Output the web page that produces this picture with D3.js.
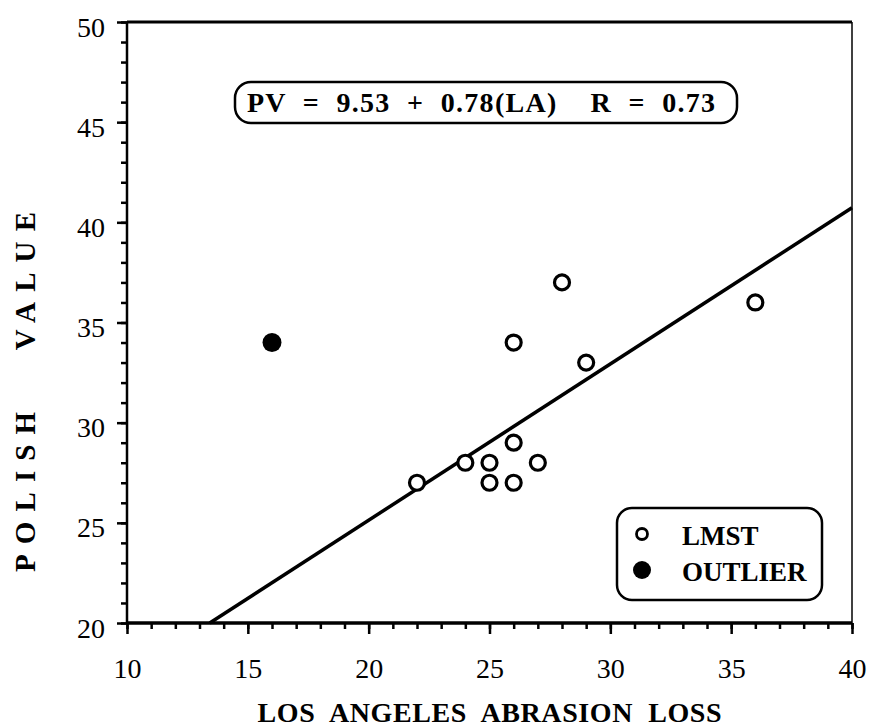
<!DOCTYPE html>
<html>
<head>
<meta charset="utf-8">
<script src="https://cdn.jsdelivr.net/npm/d3@7"></script>
<style>
  body { margin: 0; background: #fff; }
  text { font-family: "Liberation Serif", "Times New Roman", serif; fill: #000; }
</style>
</head>
<body>
<script>
// data
var lmstLA = [22, 24, 25, 25, 26, 26, 27, 26, 28, 29, 36];
var lmstPV = [27, 28, 28, 27, 29, 27, 28, 34, 37, 33, 36];
var outlierLA = [16];
var outlierPV = [34];
var intercept = 9.53, slope = 0.78;
var xTicks = [10, 15, 20, 25, 30, 35, 40];
var yTicks = [20, 25, 30, 35, 40, 45, 50];
var legendLabels = ["LMST", "OUTLIER"];

var width = 872, height = 728;
var margin = {top: 22, right: 20, bottom: 105, left: 127};

var x = d3.scaleLinear().domain([10, 40]).range([margin.left, width - margin.right]);
var y = d3.scaleLinear().domain([20, 50]).range([height - margin.bottom, margin.top]);

var svg = d3.select("body").append("svg")
    .attr("width", width)
    .attr("height", height);

// minor ticks every unit
svg.append("g")
    .attr("transform", "translate(" + x.range()[0] + ",0)")
    .call(d3.axisLeft(y).tickValues(d3.range(20, 51)).tickSize(6).tickFormat(""))
    .call(g => g.select(".domain").remove())
    .selectAll("line").attr("stroke-width", 2.5);

svg.append("g")
    .attr("transform", "translate(0," + y.range()[0] + ")")
    .call(d3.axisBottom(x).tickValues(d3.range(10, 41)).tickSize(6).tickFormat(""))
    .call(g => g.select(".domain").remove())
    .selectAll("line").attr("stroke-width", 2.5);

// major ticks + labels
var yAxis = svg.append("g")
    .attr("transform", "translate(" + x.range()[0] + ",0)")
    .call(d3.axisLeft(y).tickValues(yTicks).tickSize(10).tickPadding(12))
    .call(g => g.select(".domain").remove());
yAxis.selectAll("line").attr("stroke-width", 2.5);
yAxis.selectAll("text").attr("font-size", 28).attr("dy", "0.5em")
    .style("font-family", "Liberation Serif");

var xAxis = svg.append("g")
    .attr("transform", "translate(0," + y.range()[0] + ")")
    .call(d3.axisBottom(x).tickValues(xTicks).tickSize(11).tickPadding(24))
    .call(g => g.select(".domain").remove());
xAxis.selectAll("line").attr("stroke-width", 2.5);
xAxis.selectAll("text").attr("font-size", 28)
    .style("font-family", "Liberation Serif");

// frame
svg.append("line").attr("x1", x(10)).attr("x2", x(40)).attr("y1", y(50)).attr("y2", y(50))
    .attr("stroke", "#000").attr("stroke-width", 3);
svg.append("line").attr("x1", x(10)).attr("x2", x(40)).attr("y1", y(20)).attr("y2", y(20))
    .attr("stroke", "#000").attr("stroke-width", 3.5);
svg.append("line").attr("x1", x(10)).attr("x2", x(10)).attr("y1", y(50)).attr("y2", y(20))
    .attr("stroke", "#000").attr("stroke-width", 2.5);
svg.append("line").attr("x1", x(40)).attr("x2", x(40)).attr("y1", y(50)).attr("y2", y(20))
    .attr("stroke", "#000").attr("stroke-width", 1.5);

// regression line, clipped to the plot
var xStart = (y.domain()[0] - intercept) / slope;
var fit = [xStart, 40].map(function(v) { return {la: v, pv: intercept + slope * v}; });
svg.append("path")
    .datum(fit)
    .attr("fill", "none")
    .attr("stroke", "#000")
    .attr("stroke-width", 3.5)
    .attr("d", d3.line().x(d => x(d.la)).y(d => y(d.pv)));

// points
var lmst = lmstLA.map(function(v, i) { return {la: v, pv: lmstPV[i]}; });
var outl = outlierLA.map(function(v, i) { return {la: v, pv: outlierPV[i]}; });

svg.append("g").selectAll("circle")
    .data(lmst).join("circle")
    .attr("cx", d => x(d.la))
    .attr("cy", d => y(d.pv))
    .attr("r", 7.5)
    .attr("fill", "#fff")
    .attr("stroke", "#000")
    .attr("stroke-width", 3.2);

svg.append("g").selectAll("circle")
    .data(outl).join("circle")
    .attr("cx", d => x(d.la))
    .attr("cy", d => y(d.pv))
    .attr("r", 9.5)
    .attr("fill", "#000");

// equation box
svg.append("rect")
    .attr("x", 235).attr("y", 82).attr("width", 502).attr("height", 41)
    .attr("rx", 16).attr("ry", 16)
    .attr("fill", "#fff").attr("stroke", "#000").attr("stroke-width", 2.5);
svg.append("text")
    .attr("x", 481).attr("y", 112)
    .attr("text-anchor", "middle")
    .attr("font-size", 28).attr("font-weight", "bold")
    .attr("textLength", 468).attr("lengthAdjust", "spacing")
    .style("white-space", "pre")
    .text("PV  =  9.53  +  0.78(LA)    R  =  0.73");

// legend
svg.append("rect")
    .attr("x", 617).attr("y", 508).attr("width", 205).attr("height", 92)
    .attr("rx", 15).attr("ry", 15)
    .attr("fill", "#fff").attr("stroke", "#000").attr("stroke-width", 2.5);
var leg = svg.append("g").selectAll("g")
    .data(legendLabels).join("g")
    .attr("transform", (d, i) => "translate(642," + (534 + i * 36) + ")");
leg.append("circle")
    .attr("r", (d, i) => i === 0 ? 5.5 : 9)
    .attr("fill", (d, i) => i === 0 ? "#fff" : "#000")
    .attr("stroke", "#000")
    .attr("stroke-width", (d, i) => i === 0 ? 2.8 : 0);
leg.append("text")
    .attr("x", 40).attr("y", 11)
    .attr("font-size", 27).attr("font-weight", "bold")
    .text(d => d);

// axis titles
svg.append("text")
    .attr("x", (x(10) + x(40)) / 2).attr("y", 722)
    .attr("text-anchor", "middle")
    .attr("font-size", 28).attr("font-weight", "bold")
    .attr("textLength", 464).attr("lengthAdjust", "spacing")
    .style("white-space", "pre")
    .text("LOS  ANGELES  ABRASION  LOSS");

svg.append("text")
    .attr("transform", "translate(35,392) rotate(-90)")
    .attr("text-anchor", "middle")
    .attr("font-size", 29).attr("font-weight", "bold")
    .attr("textLength", 360).attr("lengthAdjust", "spacing")
    .style("white-space", "pre")
    .text("POLISH   VALUE");
</script>
</body>
</html>
